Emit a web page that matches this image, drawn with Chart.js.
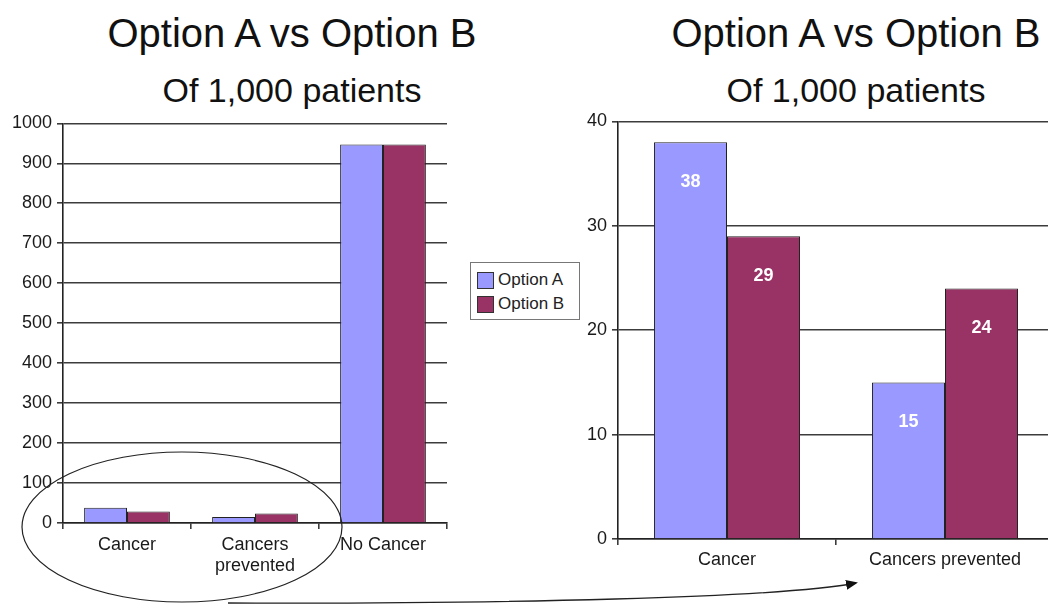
<!DOCTYPE html>
<html>
<head>
<meta charset="utf-8">
<script src="https://cdn.jsdelivr.net/npm/chart.js@4/dist/chart.umd.min.js"></script>
<style>
    html, body { margin: 0; padding: 0; background: #fff; }
    body { width: 1048px; height: 604px; overflow: hidden; position: relative; font-family: 'Liberation Sans', Arial, sans-serif; color: #111; }
    .title { position: absolute; width: 500px; text-align: center; white-space: nowrap; }
    .title.main { font-size: 40px; line-height: 40px; top: 13px; }
    .title.sub { font-size: 34px; line-height: 34px; top: 73px; }
    canvas { position: absolute; }
    #leftChart { left: 0; top: 108px; }
    #rightChart { left: 560px; top: 106px; }
    #legend { position: absolute; left: 470px; top: 262px; width: 110px; height: 58px; box-sizing: border-box; border: 1.5px solid #777; background: #fff; }
    #legend .item { position: absolute; left: 6px; height: 18px; display: flex; align-items: center; font: 17px 'Liberation Sans', Arial, sans-serif; color: #222; white-space: nowrap; }
    #legend .swatch { width: 17px; height: 17px; box-sizing: border-box; border: 1px solid #333; margin-right: 4px; }
    svg { position: absolute; left: 0; top: 0; pointer-events: none; }
</style>
</head>
<body>
<div class="title main" style="left:42px">Option A vs Option B</div>
<div class="title sub" style="left:42px">Of 1,000 patients</div>
<div class="title main" style="left:606px">Option A vs Option B</div>
<div class="title sub" style="left:606px">Of 1,000 patients</div>

<canvas id="leftChart" width="470" height="480"></canvas>
<canvas id="rightChart" width="520" height="480"></canvas>
<div id="legend"></div>

<svg width="1048" height="604" viewBox="0 0 1048 604">
    <defs>
        <marker id="head" markerWidth="12" markerHeight="10" refX="10" refY="5" orient="auto" markerUnits="userSpaceOnUse">
            <path d="M0,0 L12,5 L0,10 Z" fill="#111"></path>
        </marker>
    </defs>
    <ellipse cx="182" cy="527" rx="160" ry="75" fill="none" stroke="#222" stroke-width="1.2"></ellipse>
    <path d="M 228 603 C 500 604, 780 598, 856 583" fill="none" stroke="#222" stroke-width="1.3" marker-end="url(#head)"></path>
</svg>

<script>
// Values (people per 1,000 patients).
const seriesNames = ['Option A', 'Option B'];
const seriesColors = ['#9999ff', '#993366'];
const leftCategories = ['Cancer', ['Cancers', 'prevented'], 'No Cancer'];
const rightCategories = ['Cancer', 'Cancers prevented'];
const optionA = [38, 15, 947];
const optionB = [29, 24, 947];
const leftTicks = { max: 1000, step: 100 };
const rightTicks = { max: 40, step: 10 };

const gridColor = '#3c3c3c';
const axisFont = { family: 'Liberation Sans', size: 18, lineHeight: 1.15 };

buildLegend();

// Full scale: all three outcomes.
new Chart(document.getElementById('leftChart'), {
    type: 'bar',
    data: {
        labels: leftCategories,
        datasets: datasets([optionA, optionB]),
    },
    options: baseOptions({ ticks: leftTicks, yWidth: 63, bottom: 415, padRight: 23, labelPad: 6, height: 480 }),
});

// Zoomed in: only the two small outcomes, values written inside the bars.
new Chart(document.getElementById('rightChart'), {
    type: 'bar',
    data: {
        labels: rightCategories,
        datasets: datasets([optionA.slice(0, 2), optionB.slice(0, 2)]),
    },
    options: baseOptions({ ticks: rightTicks, yWidth: 58, bottom: 433, padRight: 26, labelPad: 5, height: 480 }),
    plugins: [insideLabels()],
});

function datasets(series) {
    return series.map((values, i) => ({
        label: seriesNames[i],
        data: values,
        backgroundColor: seriesColors[i],
        borderColor: '#222',
        borderWidth: 1,
        categoryPercentage: 0.67,
        barPercentage: 1.0,
    }));
}

function baseOptions({ ticks, yWidth, bottom, padRight, labelPad, height }) {
    return {
        responsive: false,
        animation: false,
        layout: { padding: { top: 10, right: padRight, left: 0, bottom: 0 } },
        plugins: { legend: { display: false }, tooltip: { enabled: false } },
        scales: {
            x: {
                grid: { drawOnChartArea: false, drawTicks: true, tickLength: 6, color: gridColor, lineWidth: 1.6 },
                border: { color: '#222', width: 1.6 },
                ticks: { color: '#1a1a1a', font: axisFont, padding: labelPad, maxRotation: 0 },
                afterFit: (scale) => { scale.height = height - bottom; },
            },
            y: {
                min: 0,
                max: ticks.max,
                grid: { color: gridColor, lineWidth: 1.6, tickLength: 6 },
                border: { color: '#222', width: 1.6 },
                ticks: { stepSize: ticks.step, color: '#1a1a1a', font: axisFont, padding: 5, callback: (v) => String(v) },
                afterFit: (scale) => { scale.width = yWidth; },
            },
        },
    };
}

// White value labels a little below the top of each bar.
function insideLabels() {
    return {
        id: 'insideLabels',
        afterDatasetsDraw(chart) {
            const { ctx } = chart;
            ctx.save();
            ctx.fillStyle = '#fff';
            ctx.font = 'bold 18px "Liberation Sans"';
            ctx.textAlign = 'center';
            ctx.textBaseline = 'middle';
            chart.data.datasets.forEach((ds, i) => {
                chart.getDatasetMeta(i).data.forEach((bar, j) => {
                    ctx.fillText(ds.data[j], bar.x, bar.y + 40);
                });
            });
            ctx.restore();
        },
    };
}

function buildLegend() {
    const box = document.getElementById('legend');
    seriesNames.forEach((name, i) => {
        const item = document.createElement('div');
        item.className = 'item';
        item.style.top = (8 + i * 24) + 'px';
        const swatch = document.createElement('span');
        swatch.className = 'swatch';
        swatch.style.background = seriesColors[i];
        item.appendChild(swatch);
        item.appendChild(document.createTextNode(name));
        box.appendChild(item);
    });
}
</script>
</body>
</html>
